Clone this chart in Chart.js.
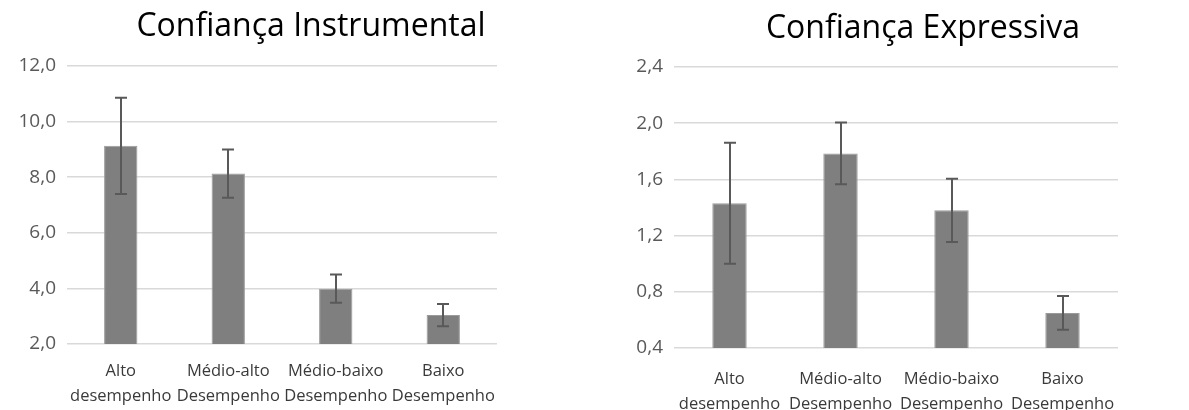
<!DOCTYPE html>
<html>
<head>
<meta charset="utf-8">
<script src="https://cdn.jsdelivr.net/npm/chart.js@4.4.1/dist/chart.umd.min.js"></script>
<style>
  html, body { margin: 0; padding: 0; background: #fff; overflow: hidden; }
  body { width: 1189px; height: 410px; position: relative; }
  .box { position: absolute; top: 0; height: 410px; }
  #box-instr { left: 0; width: 622px; }
  #box-expr { left: 600px; width: 646px; }
</style>
</head>
<body>
<div class="box" id="box-instr"><canvas id="chart-instr"></canvas></div>
<div class="box" id="box-expr"><canvas id="chart-expr"></canvas></div>
<script>
// categories shared by both panels
const categories = [
    ['Alto', 'desempenho'],
    ['Médio-alto', 'Desempenho'],
    ['Médio-baixo', 'Desempenho'],
    ['Baixo', 'Desempenho']
];

// Confiança Instrumental
const instrMeans = [9.13, 8.13, 3.99, 3.04];
const instrErrors = [1.73, 0.87, 0.51, 0.40];
const instrTicks = [2.0, 4.0, 6.0, 8.0, 10.0, 12.0];

// Confiança Expressiva
const exprMeans = [1.43, 1.785, 1.38, 0.65];
const exprErrors = [0.43, 0.22, 0.225, 0.12];
const exprTicks = [0.4, 0.8, 1.2, 1.6, 2.0, 2.4];

const FONT = '"Open Sans", Lato, sans-serif';

// draws the vertical error bars on top of the bars
const errorBarPlugin = {
    id: 'errorBars',
    afterDatasetsDraw(chart, args, opts) {
        const ctx = chart.ctx;
        const meta = chart.getDatasetMeta(0);
        const yScale = chart.scales.y;
        const means = chart.data.datasets[0].data;
        ctx.save();
        ctx.strokeStyle = '#595959';
        ctx.lineWidth = 2;
        meta.data.forEach((bar, i) => {
            const x = Math.round(bar.x);
            const top = yScale.getPixelForValue(means[i] + opts.errors[i]);
            const bot = yScale.getPixelForValue(means[i] - opts.errors[i]);
            ctx.beginPath();
            ctx.moveTo(x, top);
            ctx.lineTo(x, bot);
            ctx.moveTo(x - 6, top);
            ctx.lineTo(x + 6, top);
            ctx.moveTo(x - 6, bot);
            ctx.lineTo(x + 6, bot);
            ctx.stroke();
        });
        ctx.restore();
    }
};

function buildChart(canvasId, title, means, errors, ticks, layout) {
    return new Chart(document.getElementById(canvasId), {
        type: 'bar',
        data: {
            labels: categories,
            datasets: [{
                data: means,
                backgroundColor: '#7f7f7f',
                borderColor: '#9a9a9a',
                borderWidth: 1,
                categoryPercentage: 1,
                barPercentage: 0.31
            }]
        },
        options: {
            responsive: true,
            maintainAspectRatio: false,
            animation: false,
            layout: { padding: 0 },
            plugins: {
                legend: { display: false },
                tooltip: { enabled: false },
                title: {
                    display: true,
                    text: title,
                    color: '#000',
                    font: { family: FONT, size: 32, weight: 'normal', lineHeight: 1.2 },
                    padding: { top: layout.titleTop, bottom: layout.plotTop - layout.titleTop - 32 * 1.2 }
                },
                errorBars: { errors: errors }
            },
            scales: {
                x: {
                    grid: { display: false },
                    border: { display: false },
                    ticks: {
                        color: '#3a3a3a',
                        font: { family: FONT, size: 16.5, lineHeight: 1.5 },
                        padding: layout.xPad,
                        maxRotation: 0,
                        autoSkip: false
                    },
                    afterFit(axis) { axis.height = 410 - layout.plotBottom; }
                },
                y: {
                    min: ticks[0],
                    max: ticks[ticks.length - 1],
                    afterBuildTicks(axis) { axis.ticks = ticks.map(v => ({ value: v })); },
                    grid: { color: '#d9d9d9', lineWidth: 1.5, drawTicks: false },
                    border: { display: false },
                    ticks: {
                        color: '#595959',
                        font: { family: FONT, size: 19 },
                        padding: 11,
                        callback: v => Number(v).toFixed(1).replace('.', ',')
                    },
                    afterFit(axis) { axis.width = layout.yWidth; }
                },
                // empty right-hand axis that only reserves space, so the title stays centred on the canvas
                spacer: {
                    type: 'linear',
                    position: 'right',
                    grid: { display: false },
                    border: { display: false },
                    ticks: { display: false },
                    afterFit(axis) { axis.width = layout.right; }
                }
            }
        },
        plugins: [errorBarPlugin]
    });
}

buildChart('chart-instr', 'Confiança Instrumental', instrMeans, instrErrors, instrTicks,
    { right: 125, yWidth: 67, titleTop: 8, plotTop: 66, plotBottom: 344, xPad: 7 });
buildChart('chart-expr', 'Confiança Expressiva', exprMeans, exprErrors, exprTicks,
    { right: 128, yWidth: 74, titleTop: 10, plotTop: 67, plotBottom: 348, xPad: 11 });
</script>
</body>
</html>
